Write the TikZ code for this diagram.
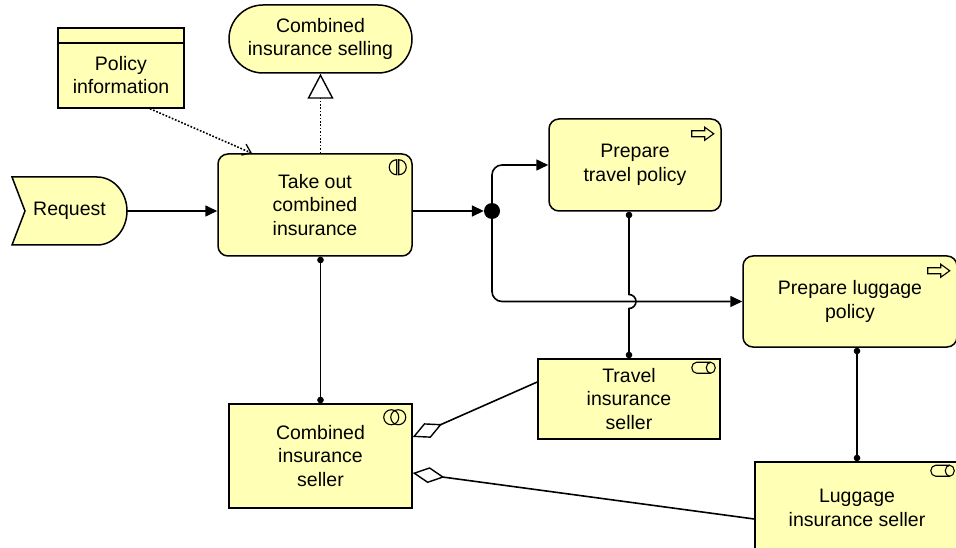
\documentclass[tikz,border=0pt]{standalone}
\usepackage{fontspec}
\setmainfont{Liberation Sans}
\usetikzlibrary{arrows.meta,calc}
\definecolor{biz}{HTML}{FFFFB5}
\begin{document}
\begin{tikzpicture}[x=1pt,y=-1pt,
  every node/.style={font=\fontsize{19.5}{23.5}\selectfont, align=center, inner sep=0pt},
  box/.style={draw=black, fill=biz, line width=1.5pt},
  rbox/.style={box, rounded corners=10pt},
  conn/.style={line width=1.6pt},
  icon/.style={line width=1.1pt},
  trig/.style={conn, -{Triangle[length=12pt,width=11pt]}},
  assign/.style={conn, {Circle[length=6.5pt,width=6.5pt]}-{Circle[length=6.5pt,width=6.5pt]}},
  agg/.style={conn, {Diamond[open,length=32pt,width=16pt,line width=1.4pt]}-},
  real/.style={conn, dash pattern=on 1.7pt off 1.7pt, -{Triangle[open,length=25pt,width=26pt,line width=1.4pt]}},
  acc/.style={conn, dash pattern=on 1.7pt off 1.7pt, -{Straight Barb[length=8pt,width=12pt,line width=1.3pt]}}
]
\useasboundingbox (0,0) rectangle (956,548);
\fill[white] (0,0) rectangle (956,548);
\clip (0,0) rectangle (956,548);

% Request (event shape)
\draw[box] (12,177) -- (97,177) arc[start angle=90,end angle=-90,x radius=30pt,y radius=34pt] -- (12,245) -- (25,211) -- cycle;
\node[minimum width=115pt, minimum height=68pt] (req) at (69.5,211) {Request};

% Policy information (business object)
\node[box, minimum width=126pt, minimum height=80pt] (pi) at (121,68) {};
\draw[line width=1.5pt] ([yshift=-16pt]pi.north west) -- ([yshift=-16pt]pi.north east);
\node (pitext) at ([yshift=-7pt]pi.center) {Policy\\information};

% Service
\node[box, rounded corners=34pt, minimum width=183pt, minimum height=68pt] (sell) at (320.5,39) {Combined\\insurance selling};

% Interaction
\node[rbox, minimum width=194pt, minimum height=102pt] (take) at (315,205) {Take out\\combined\\insurance};

% Junction
\node[circle, fill=black, minimum size=16pt] (j) at (492,211) {};

% Processes
\node[rbox, minimum width=172pt, minimum height=92pt] (ptp) at (635,165) {Prepare\\travel policy};
\node[rbox, minimum width=214pt, minimum height=91pt] (plp) at (850,301.5) {Prepare luggage\\policy};

% Roles / collaboration
\node[box, minimum width=182pt, minimum height=80pt] (tseller) at (629,399) {Travel\\insurance\\seller};
\node[box, minimum width=183pt, minimum height=104pt] (cseller) at (320.5,456) {Combined\\insurance\\seller};
\node[box, minimum width=204pt, minimum height=92pt] (lseller) at (857,508) {Luggage\\insurance seller};

% Icons
\begin{scope}[shift={(take.north east)}, icon]
  \draw (-16,6.5) arc[start angle=90,end angle=270,radius=7.5pt] -- cycle;
  \draw (-14,6.5) arc[start angle=90,end angle=-90,radius=7.5pt] -- cycle;
\end{scope}
\begin{scope}[shift={(ptp.north east)}, icon]
  \draw (-30,12.5) -- (-17,12.5) -- (-17,9) -- (-8,15.5) -- (-17,22) -- (-17,18.5) -- (-30,18.5) -- cycle;
\end{scope}
\begin{scope}[shift={(plp.north east)}, icon]
  \draw (-30,12.5) -- (-17,12.5) -- (-17,9) -- (-8,15.5) -- (-17,22) -- (-17,18.5) -- (-30,18.5) -- cycle;
\end{scope}
\begin{scope}[shift={(cseller.north east)}, icon]
  \draw (-21.5,14) circle[radius=7.5pt];
  \draw (-14.5,14) circle[radius=7.5pt];
\end{scope}
\begin{scope}[shift={(tseller.north east)}, icon]
  \draw (-10,4) -- (-24,4) arc[start angle=90,end angle=270,x radius=5pt,y radius=5.5pt] -- (-10,15);
  \draw (-10,9.5) ellipse[x radius=4.5pt,y radius=5.5pt];
\end{scope}
\begin{scope}[shift={(lseller.north east)}, icon]
  \draw (-10,4) -- (-24,4) arc[start angle=90,end angle=270,x radius=5pt,y radius=5.5pt] -- (-10,15);
  \draw (-10,9.5) ellipse[x radius=4.5pt,y radius=5.5pt];
\end{scope}

% Connectors
\draw[acc] ([xshift=29pt]pi.south) -- ([xshift=-63pt]take.north);
\draw[real] (take.north -| sell.south) -- (sell.south);
\draw[trig] (req.east) -- (req.east -| take.west);
\draw[trig] (take.east |- j) -- (j);
\draw[trig, rounded corners=10pt] (j) |- (ptp.west);
\draw[trig, rounded corners=10pt] (j) |- (plp.west);
\draw[assign] (take.south -| cseller.north) -- (cseller.north);
\draw[assign] (ptp.south -| tseller.north) -- ([yshift=7pt]tseller.north |- plp.west) arc[start angle=90,end angle=-90,radius=7pt] -- (tseller.north);
\draw[assign] (plp.south -| lseller.north) -- (lseller.north);
\draw[agg] ([yshift=19pt]cseller.east) -- ([yshift=17pt]tseller.west);
\draw[agg] ([yshift=-17pt]cseller.east) -- ([yshift=-11pt]lseller.west);
\end{tikzpicture}
\end{document}
